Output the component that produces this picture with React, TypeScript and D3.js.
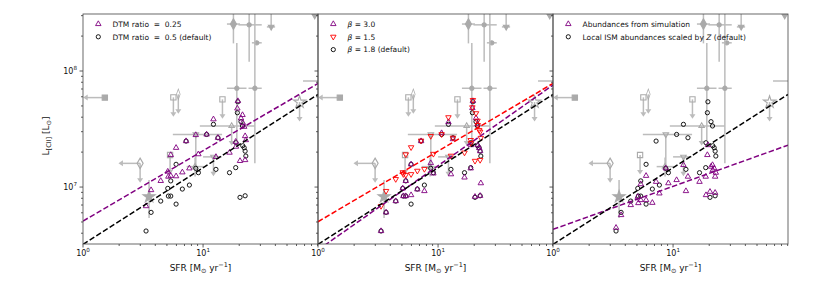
import * as d3 from 'd3'

const PURPLE = '#800080'
const RED = '#ff0000'
const GREY = '#aaaaaa'
const GREY_BAR = '#bcbcbc'
const FONT = 'DejaVu Sans, sans-serif'

// simulated galaxies (same SFR for all models)
const sfr = [3.35, 3.69, 4.44, 5.08, 5.14, 5.38, 5.96, 5.38, 5.96, 6.72, 7.69, 7.22, 8.69, 9.14, 10.7, 12.2,
  13.3, 12.8, 16.6, 18.7, 19.3, 19.5, 20.7, 21.3, 21.4, 22.0, 22.4, 22.7, 20.3, 22.4, 18.8]

const lDefault = [4.18e6, 6.05e6, 7.57e6, 9.74e6, 8.36e6, 8.36e6, 7.13e6, 1.13e7, 1.57e7, 9.61e6, 1.04e7, 2.49e7,
  1.45e7, 1.33e7, 2.84e7, 3.47e7, 2.66e7, 1.42e7, 1.33e7, 1.47e7, 4.37e7, 5.43e7, 3.66e7, 3.36e7, 2.27e7, 2.18e7,
  2.04e7, 1.85e7, 8.15e6, 8.41e6, 2.41e7]

const lDtm025 = [6.85e6, 9.42e6, 1.13e7, 1.36e7, 1.23e7, 1.25e7, 1.24e7, 1.89e7, 2.18e7, 1.34e7, 1.45e7, 2.49e7,
  2.81e7, 1.92e7, 2.84e7, 3.84e7, 2.66e7, 1.82e7, 1.98e7, 2.46e7, 4.76e7, 5.51e7, 3.91e7, 4.18e7, 3.58e7, 3.31e7,
  2.75e7, 2.54e7, 1.68e7, 1.71e7, 2.23e7]

const lBeta30 = [4.18e6, 6.05e6, 7.57e6, 9.74e6, 8.36e6, 8.36e6, 8.53e6, 1.13e7, 1.57e7, 9.55e6, 9.24e6, 2.49e7,
  1.61e7, 1.31e7, 2.92e7, 3.63e7, 2.59e7, 1.29e7, 1.21e7, 1.45e7, 4.8e7, 5.51e7, 3.93e7, 3.49e7, 2.3e7, 2.17e7,
  2.04e7, 1.08e7, 8.25e6, 8.41e6, 2.3e7]

const lBeta15 = [6.86e6, 9.24e6, 1.17e7, 1.34e7, 1.29e7, 1.27e7, 1.29e7, 1.91e7, 2.2e7, 1.38e7, 1.43e7, 2.51e7,
  2.75e7, 1.93e7, 2.85e7, 3.99e7, 2.66e7, 1.86e7, 1.98e7, 2.54e7, 4.86e7, 5.62e7, 4.32e7, 3.73e7, 3.42e7, 3.1e7,
  3.0e7, 2.65e7, 1.68e7, 1.71e7, 2.39e7]

const lSimAbund = [4.46e6, 5.74e6, 7.0e6, 8.25e6, 7.28e6, 7.73e6, 7.73e6, 1.06e7, 1.25e7, 7.32e6, 8.82e6, 1.11e7,
  1.45e7, 1.08e7, 1.15e7, 1.55e7, 1.23e7, 9.24e6, 1.11e7, 1.23e7, 1.89e7, 2.3e7, 1.5e7, 1.55e7, 1.4e7, 1.45e7,
  1.23e7, 1.33e7, 9.11e6, 8.93e6, 8.53e6]

// power-law fits: [log10 L at SFR = 1, slope]
const fitDefault = [6.506, 0.66]
const fitDtm025 = [6.707, 0.606]
const fitBeta30 = [6.458, 0.726]
const fitBeta15 = [6.701, 0.609]
const fitSimAbund = [6.635, 0.371]

// observed high-z galaxies (grey)
const observed = [
  { sfr: 1.52, l: 5.9e7, shape: 'square', filled: true, xlim: true },
  { sfr: 5.66, l: 5.93e7, shape: 'square', ylim: true },
  { sfr: 6.22, l: 6.3e7, shape: 'thinDiamond', ylim: true },
  { sfr: 14.5, l: 5.7e7, shape: 'square', ylim: true },
  { sfr: 2.99, l: 1.6e7, shape: 'diamond', xlim: true, ylim: true },
  { sfr: 5.31, l: 1.89e7, shape: 'square', ylim: true },
  { sfr: 3.55, l: 8.25e6, shape: 'star', filled: true, ylo: 5.4e6, yhi: 1.15e7 },
  { sfr: 8.7, l: 2.84e7, shape: 'triDown', xlo: 5.6, xhi: 14.4, ylo: 1.4e7, yhi: 2.84e7 },
  { sfr: 8.58, l: 1.5e7, shape: 'tri', xlo: 7.3, xhi: 10.1, ylo: 1.23e7, yhi: 1.8e7 },
  { sfr: 12.2, l: 1.82e7, shape: 'triDown', xlo: 10, xhi: 14.3, ylim: true },
  { sfr: 17.3, l: 3.36e7, shape: 'tri', xlo: 9.4, xhi: 27, ylim: true },
  { sfr: 17.9, l: 2.54e8, shape: 'diamond', filled: true, xlo: 15.8, xhi: 20.3, ylo: 1.73e8, yhi: 5e8 },
  { sfr: 24.2, l: 2.5e8, shape: 'circle', filled: true, xlo: 19.7, xhi: 30.8, ylo: 1.2e8, yhi: 5e8 },
  { sfr: 36.9, l: 2.4e8, shape: 'triDown', filled: true, xlo: 34, xhi: 39.8, ylo: 2.4e8, yhi: 5e8 },
  { sfr: 28, l: 1.75e8, shape: 'dot', filled: true, xlo: 25.5, xhi: 30.8 },
  { sfr: 19.1, l: 7.1e7, shape: 'dot', filled: true, xlo: 15.8, xhi: 23, ylo: 2.54e7, yhi: 1.74e8 },
  { sfr: 27, l: 7.1e7, shape: 'dot', filled: true, xlo: 23.9, xhi: 30.8, ylo: 1.6e7, yhi: 5e8 },
  { sfr: 85, l: 3e8, shape: 'triDown', filled: true },
  { sfr: 110, l: 8.2e7, shape: 'dot', filled: true, xlo: 68, xhi: 160 },
  { sfr: 63.6, l: 5.4e7, shape: 'star', ylim: true },
]

const xMajor = [1, 10]
const yMajor = [1e7, 1e8]

const X_DOMAIN: [number, number] = [1, 90.6]
const Y_DOMAIN: [number, number] = [3.23e6, 3.1e8]
const PANEL_LEFT = [83, 318, 553]
const PANEL_W = 235
const TOP = 14
const BOTTOM = 244
const ARROW_X = 0.66
const ARROW_Y = 0.68

type Series = { values: number[]; shape: string; color: string }
type Fit = { coef: number[]; color: string }
type LegendItem = { shape: string; color: string; label: any }

const panels: { series: Series[]; fits: Fit[]; legend: LegendItem[] }[] = [
  {
    series: [
      { values: lDefault, shape: 'circle', color: 'black' },
      { values: lDtm025, shape: 'tri', color: PURPLE },
    ],
    fits: [
      { coef: fitDtm025, color: PURPLE },
      { coef: fitDefault, color: 'black' },
    ],
    legend: [
      { shape: 'tri', color: PURPLE, label: 'DTM ratio  =  0.25' },
      { shape: 'circle', color: 'black', label: 'DTM ratio  =  0.5 (default)' },
    ],
  },
  {
    series: [
      { values: lDefault, shape: 'circle', color: 'black' },
      { values: lBeta30, shape: 'tri', color: PURPLE },
      { values: lBeta15, shape: 'triDown', color: RED },
    ],
    fits: [
      { coef: fitBeta15, color: RED },
      { coef: fitBeta30, color: PURPLE },
      { coef: fitDefault, color: 'black' },
    ],
    legend: [
      { shape: 'tri', color: PURPLE, label: <><tspan fontStyle="italic">β</tspan>{' = 3.0'}</> },
      { shape: 'triDown', color: RED, label: <><tspan fontStyle="italic">β</tspan>{' = 1.5'}</> },
      { shape: 'circle', color: 'black', label: <><tspan fontStyle="italic">β</tspan>{' = 1.8 (default)'}</> },
    ],
  },
  {
    series: [
      { values: lDefault, shape: 'circle', color: 'black' },
      { values: lSimAbund, shape: 'tri', color: PURPLE },
    ],
    fits: [
      { coef: fitSimAbund, color: PURPLE },
      { coef: fitDefault, color: 'black' },
    ],
    legend: [
      { shape: 'tri', color: PURPLE, label: 'Abundances from simulation' },
      {
        shape: 'circle',
        color: 'black',
        label: <>{'Local ISM abundances scaled by '}<tspan fontStyle="italic">Z</tspan>{' (default)'}</>,
      },
    ],
  },
]

function symbolFor(shape: string) {
  switch (shape) {
    case 'circle': return d3.symbol(d3.symbolCircle, 14)()
    case 'dot': return d3.symbol(d3.symbolCircle, 14)()
    case 'tri': return d3.symbol(d3.symbolTriangle, 13)()
    case 'triDown': return d3.symbol(d3.symbolTriangle, 13)()
    case 'square': return d3.symbol(d3.symbolSquare, 28)()
    case 'diamond': return d3.symbol(d3.symbolDiamond, 32)()
    case 'thinDiamond': return d3.symbol(d3.symbolDiamond, 32)()
    case 'star': return d3.symbol(d3.symbolStar, 45)()
    default: return d3.symbol(d3.symbolCircle, 14)()
  }
}

function Marker({ shape, x, y, color, filled = false, sw = 0.9 }: any) {
  let t = `translate(${x},${y})`
  if (shape === 'triDown') t += ' rotate(180)'
  if (shape === 'thinDiamond') t += ' scale(0.6,1)'
  return (
    <path
      d={symbolFor(shape) ?? ''}
      transform={t}
      fill={filled ? color : 'none'}
      stroke={color}
      strokeWidth={sw}
    />
  )
}

function Sup({ base, exp, x, y, anchor }: any) {
  return (
    <text x={x} y={y} textAnchor={anchor} fontSize={8} fontFamily={FONT} fill="#111">
      {base}
      <tspan dy={-3.6} fontSize={5.6}>{exp}</tspan>
    </text>
  )
}

export default function App() {
  const y = d3.scaleLog().domain(Y_DOMAIN).range([BOTTOM, TOP])
  const yTicks = y.ticks()

  return (
    <svg width={830} height={288} style={{ position: 'absolute', left: 0, top: 0, background: 'white' }}>
      <defs>
        {PANEL_LEFT.map((left, i) => (
          <clipPath id={`clip-${i}`} key={i}>
            <rect x={left} y={TOP} width={PANEL_W} height={BOTTOM - TOP} />
          </clipPath>
        ))}
      </defs>

      {panels.map((p, i) => {
        const left = PANEL_LEFT[i]
        const x = d3.scaleLog().domain(X_DOMAIN).range([left, left + PANEL_W])
        const xTicks = x.ticks()
        const fitLine = (coef: number[]) =>
          d3.line<number>()
            .x((s) => x(s))
            .y((s) => y(Math.pow(10, coef[0] + coef[1] * Math.log10(s))))(X_DOMAIN)

        return (
          <g key={i}>
            <g clipPath={`url(#clip-${i})`}>
              {observed.map((o: any, j) => {
                const cx = x(o.sfr)
                const cy = y(o.l)
                const ax = x(o.sfr * ARROW_X)
                const ay = y(o.l * ARROW_Y)
                return (
                  <g key={j}>
                    {o.xlo && <line x1={x(o.xlo)} x2={x(o.xhi)} y1={cy} y2={cy} stroke={GREY_BAR} strokeWidth={1.5} />}
                    {o.ylo && <line x1={cx} x2={cx} y1={y(o.ylo)} y2={y(o.yhi)} stroke={GREY_BAR} strokeWidth={1.5} />}
                    {o.xlim && (
                      <g>
                        <line x1={cx} x2={ax + 2} y1={cy} y2={cy} stroke={GREY_BAR} strokeWidth={1.5} />
                        <path d={`M${ax},${cy} l4.5,-3 l0,6 z`} fill={GREY_BAR} />
                      </g>
                    )}
                    {o.ylim && (
                      <g>
                        <line x1={cx} x2={cx} y1={cy} y2={ay - 2} stroke={GREY_BAR} strokeWidth={1.5} />
                        <path d={`M${cx},${ay} l-3,-4.5 l6,0 z`} fill={GREY_BAR} />
                      </g>
                    )}
                    <Marker shape={o.shape} x={cx} y={cy} color={GREY} filled={!!o.filled} sw={1.1} />
                  </g>
                )
              })}

              {p.series.map((s, k) => (
                <g key={k}>
                  {s.values.map((v, j) => (
                    <Marker key={j} shape={s.shape} x={x(sfr[j])} y={y(v)} color={s.color} />
                  ))}
                </g>
              ))}

              {p.fits.map((f, k) => (
                <path key={k} d={fitLine(f.coef) ?? ''} fill="none" stroke={f.color} strokeWidth={1.5}
                  strokeDasharray="5.5,2.4" />
              ))}
            </g>

            {/* ticks */}
            {xTicks.map((t, k) => {
              const major = xMajor.includes(t)
              return <line key={k} x1={x(t)} x2={x(t)} y1={BOTTOM} y2={BOTTOM + (major ? 3.5 : 2)} stroke="#333" strokeWidth={0.8} />
            })}
            {yTicks.map((t, k) => {
              const major = yMajor.some((m) => Math.abs(m - t) / m < 1e-6)
              return <line key={k} x1={left} x2={left - (major ? 3.5 : 2)} y1={y(t)} y2={y(t)} stroke="#333" strokeWidth={0.8} />
            })}
            {xMajor.map((t) => (
              <Sup key={t} base="10" exp={Math.round(Math.log10(t))} x={x(t)} y={256} anchor="middle" />
            ))}
            {i === 0 && yMajor.map((t) => (
              <Sup key={t} base="10" exp={Math.round(Math.log10(t))} x={left - 6} y={y(t) + 3} anchor="end" />
            ))}

            {/* frame */}
            <rect x={left} y={TOP} width={PANEL_W} height={BOTTOM - TOP} fill="none" stroke="#444" strokeWidth={0.8} />

            {/* x label */}
            <text x={left + PANEL_W / 2} y={271} textAnchor="middle" fontSize={9} fontFamily={FONT} fill="#111">
              SFR [M<tspan dy={2} fontSize={6.5}>⊙</tspan>
              <tspan dy={-2}> yr</tspan>
              <tspan dy={-3.6} fontSize={6.5}>−1</tspan>
              <tspan dy={3.6}>]</tspan>
            </text>

            {/* legend */}
            {p.legend.map((e, k) => {
              const ly = 24 + k * 12.8
              return (
                <g key={k}>
                  <Marker shape={e.shape} x={left + 15.3} y={ly} color={e.color} />
                  <text x={left + 29.5} y={ly + 2.7} fontSize={7.5} fontFamily={FONT} fill="#111" style={{ whiteSpace: 'pre' }}>
                    {e.label}
                  </text>
                </g>
              )
            })}
          </g>
        )
      })}

      {/* y label */}
      <text transform="translate(49,136) rotate(-90)" textAnchor="middle" fontSize={9} fontFamily={FONT} fill="#111">
        L<tspan dy={2} fontSize={6.5}>[CII]</tspan>
        <tspan dy={-2}> [L</tspan>
        <tspan dy={2} fontSize={6.5}>⊙</tspan>
        <tspan dy={-2}>]</tspan>
      </text>
    </svg>
  )
}
